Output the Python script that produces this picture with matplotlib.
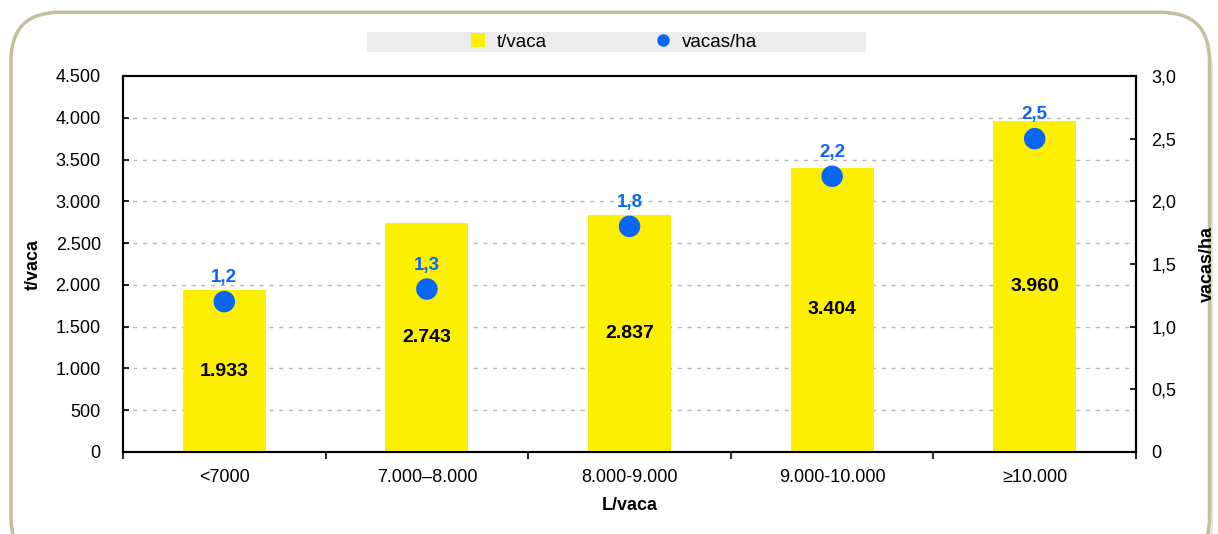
import matplotlib
matplotlib.use("Agg")
import matplotlib.pyplot as plt
from matplotlib.patches import FancyBboxPatch, Rectangle
from matplotlib.lines import Line2D

plt.rcParams["font.family"] = ["Liberation Sans", "DejaVu Sans"]

categories = ["<7000", "7.000\u20138.000", "8.000-9.000", "9.000-10.000", "\u226510.000"]
t_vaca = [1933, 2743, 2837, 3404, 3960]
vacas_ha = [1.2, 1.3, 1.8, 2.2, 2.5]

YELLOW = "#fcf000"
BLUE = "#0a66f5"
FS = 13


def fmt_thousands(v):
    return f"{v:,.0f}".replace(",", ".")


def fmt_comma(v):
    return f"{v:.1f}".replace(".", ",")


fig = plt.figure(figsize=(12.18, 5.34), dpi=100)

# rounded frame with shadow
shadow = FancyBboxPatch((0.011, -0.07), 0.985, 1.03, boxstyle="round,pad=0,rounding_size=0.04",
                        transform=fig.transFigure, facecolor="#e6e6de", edgecolor="none",
                        mutation_aspect=12.18 / 5.34, zorder=0)
frame = FancyBboxPatch((0.009, -0.06), 0.984, 1.037, boxstyle="round,pad=0,rounding_size=0.04",
                       transform=fig.transFigure, facecolor="white", edgecolor="#c4c09c",
                       linewidth=2.5, mutation_aspect=12.18 / 5.34, zorder=1)
fig.patches.extend([shadow, frame])

ax = fig.add_axes([123 / 1218, 1 - 452 / 534, (1136 - 123) / 1218, (452 - 76) / 534])
ax.set_zorder(2)
ax.patch.set_alpha(0)

x = list(range(len(categories)))
ax.bar(x, t_vaca, width=0.41, color=YELLOW, zorder=3)
for xi, v in zip(x, t_vaca):
    ax.text(xi, v / 2, fmt_thousands(v), ha="center", va="center",
            fontsize=14, fontweight="bold", color="black", zorder=4)

ax.set_xlim(-0.5, len(categories) - 0.5)
ax.set_ylim(0, 4500)
ax.set_yticks(range(0, 4501, 500))
ax.set_yticklabels([fmt_thousands(v) for v in range(0, 4501, 500)])
ax.set_xticks(x)
ax.set_xticklabels(categories)
ax.set_xticks([i + 0.5 for i in range(-1, len(categories))], minor=True)
ax.tick_params(axis="x", which="major", length=0, pad=12, labelsize=FS)
ax.tick_params(axis="x", which="minor", length=5, direction="out", width=1.2)
ax.tick_params(axis="y", length=4, direction="in", width=1.2, labelsize=FS, pad=16)
for gy in range(500, 4500, 500):
    ax.axhline(gy, color="#b8b8b8", linestyle=(0, (3, 4)), linewidth=1, zorder=1)
for s in ax.spines.values():
    s.set_linewidth(1.5)
ax.set_xlabel("L/vaca", fontsize=FS, fontweight="bold", labelpad=8)
ax.set_ylabel("t/vaca", fontsize=FS, fontweight="bold", labelpad=10)

ax2 = ax.twinx()
ax2.set_ylim(0, 3.0)
ax2.set_yticks([0, 0.5, 1.0, 1.5, 2.0, 2.5, 3.0])
ax2.set_yticklabels(["0"] + [fmt_comma(v) for v in [0.5, 1.0, 1.5, 2.0, 2.5, 3.0]])
ax2.tick_params(axis="y", length=4, direction="in", width=1.2, labelsize=FS, pad=11)
for s in ax2.spines.values():
    s.set_linewidth(1.5)
ax2.scatter(x, vacas_ha, s=240, color=BLUE, zorder=5, edgecolors="none")
for xi, v in zip(x, vacas_ha):
    ax2.annotate(fmt_comma(v), (xi, v), xytext=(0, 11), textcoords="offset points",
                 ha="center", va="bottom", fontsize=13.5, fontweight="bold", color=BLUE)
ax2.set_ylabel("vacas/ha", fontsize=FS, fontweight="bold", labelpad=16)

# legend strip
fig.patches.append(Rectangle((367 / 1218, 1 - 52 / 534), (866 - 367) / 1218, 20 / 534,
                             transform=fig.transFigure, facecolor="#ececec",
                             edgecolor="none", zorder=2))
handles = [Rectangle((0, 0), 1, 1, facecolor=YELLOW, edgecolor="none"),
           Line2D([], [], marker="o", linestyle="none", markersize=9,
                  markerfacecolor=BLUE, markeredgecolor="none")]
leg = fig.legend(handles, ["t/vaca", "vacas/ha"], loc="center", ncol=2,
                 bbox_to_anchor=(614 / 1218, 1 - 42 / 534), frameon=False,
                 fontsize=13.5, columnspacing=5.8, handlelength=0.75, handleheight=0.75,
                 handletextpad=0.65)

fig.savefig("out.png", dpi=100)
